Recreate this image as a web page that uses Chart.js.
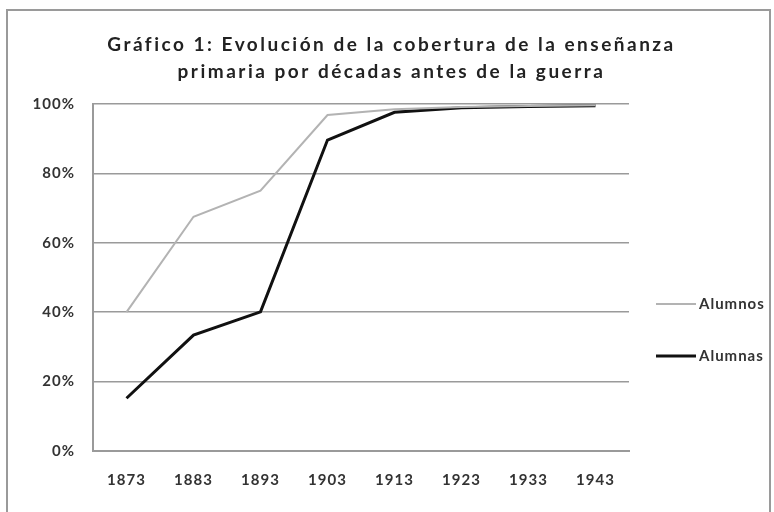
<!DOCTYPE html>
<html>
<head>
<meta charset="utf-8">
<script src="https://cdn.jsdelivr.net/npm/chart.js@4/dist/chart.umd.min.js"></script>
<style>
  body { margin: 0; background: #fff; }
  #wrap { width: 774px; height: 512px; position: relative; }
</style>
</head>
<body>
<div id="wrap"><canvas id="chart" width="774" height="512"></canvas></div>
<script>
// decades (x axis)
const decades = ["1873", "1883", "1893", "1903", "1913", "1923", "1933", "1943"];

// coverage in %
const alumnos = [40, 67.5, 75, 96.8, 98.5, 99.1, 99.4, 99.6];
const alumnas = [15.2, 33.4, 40.1, 89.6, 97.6, 98.9, 99.3, 99.5];

const titleLines = [
    "Gráfico 1: Evolución de la cobertura de la enseñanza",
    "primaria por décadas antes de la guerra"
];

const yTicks = [0, 20, 40, 60, 80, 100];

const fontFamily = "Lato, 'Open Sans', sans-serif";

// the original title is set quite loose, give it some letter spacing
const TitleEl = Chart.registry.plugins.get("title")._element;
if (TitleEl) {
    const origDraw = TitleEl.prototype.draw;
    TitleEl.prototype.draw = function () {
        const prev = this.ctx.letterSpacing;
        this.ctx.letterSpacing = "2.5px";
        origDraw.call(this);
        this.ctx.letterSpacing = prev;
    };
}

// frame around the whole figure + legend drawn on the right
const framePlugin = {
    id: "frame",
    beforeDraw(chart) {
        const ctx = chart.ctx;
        ctx.fillStyle = "#fff";
        ctx.fillRect(0, 0, chart.width, chart.height);
        ctx.strokeStyle = "#9a9a9a";
        ctx.lineWidth = 2;
        ctx.strokeRect(7, 10, 763, 520);
        ctx.letterSpacing = "1px";
    },
    afterDraw(chart) {
        const ctx = chart.ctx;
        const area = chart.chartArea;
        ctx.save();
        ctx.font = "bold 15px " + fontFamily;
        ctx.textBaseline = "middle";
        ctx.textAlign = "left";
        const x0 = area.right + 27;
        const ys = [304, 356];
        chart.data.datasets.forEach((ds, i) => {
            ctx.strokeStyle = ds.borderColor;
            ctx.lineWidth = ds.borderWidth;
            ctx.beginPath();
            ctx.moveTo(x0, ys[i]);
            ctx.lineTo(x0 + 40, ys[i]);
            ctx.stroke();
            ctx.fillStyle = "#333";
            ctx.fillText(ds.label, x0 + 43, ys[i]);
        });
        ctx.restore();
    }
};

new Chart(document.getElementById("chart"), {
    type: "line",
    data: {
        labels: decades,
        datasets: [
            {
                label: "Alumnos",
                data: alumnos,
                borderColor: "#b3b3b3",
                borderWidth: 2,
                pointRadius: 0,
                tension: 0
            },
            {
                label: "Alumnas",
                data: alumnas,
                borderColor: "#111",
                borderWidth: 3,
                pointRadius: 0,
                tension: 0
            }
        ]
    },
    options: {
        responsive: false,
        animation: false,
        layout: { padding: { top: 31, left: 9, right: 0, bottom: 3 } },
        plugins: {
            legend: { display: false },
            tooltip: { enabled: false },
            title: {
                display: true,
                text: titleLines,
                color: "#222",
                font: { family: fontFamily, size: 19, weight: "bold", lineHeight: 1.42 },
                padding: { top: 0, bottom: 19 }
            }
        },
        scales: {
            x: {
                offset: true,
                grid: { display: false, drawTicks: false },
                border: { display: true, color: "#9a9a9a", width: 2 },
                ticks: {
                    padding: 20,
                    color: "#333",
                    font: { family: fontFamily, size: 15, weight: "bold" }
                }
            },
            y: {
                min: 0,
                max: 100,
                afterFit(scale) { scale.width = 84; },
                afterBuildTicks(scale) {
                    scale.ticks = yTicks.map(v => ({ value: v }));
                },
                grid: { color: "#9a9a9a", lineWidth: 1.5, drawTicks: false },
                border: { display: true, color: "#9a9a9a", width: 2 },
                ticks: {
                    padding: 18,
                    color: "#333",
                    font: { family: fontFamily, size: 15, weight: "bold" },
                    callback: v => v + "%"
                }
            },
            // empty axis that only reserves room for the legend on the right
            side: {
                position: "right",
                display: true,
                grid: { display: false, drawTicks: false },
                border: { display: false },
                ticks: { display: false },
                afterFit(scale) { scale.width = 145; }
            }
        }
    },
    plugins: [framePlugin]
});
</script>
</body>
</html>
